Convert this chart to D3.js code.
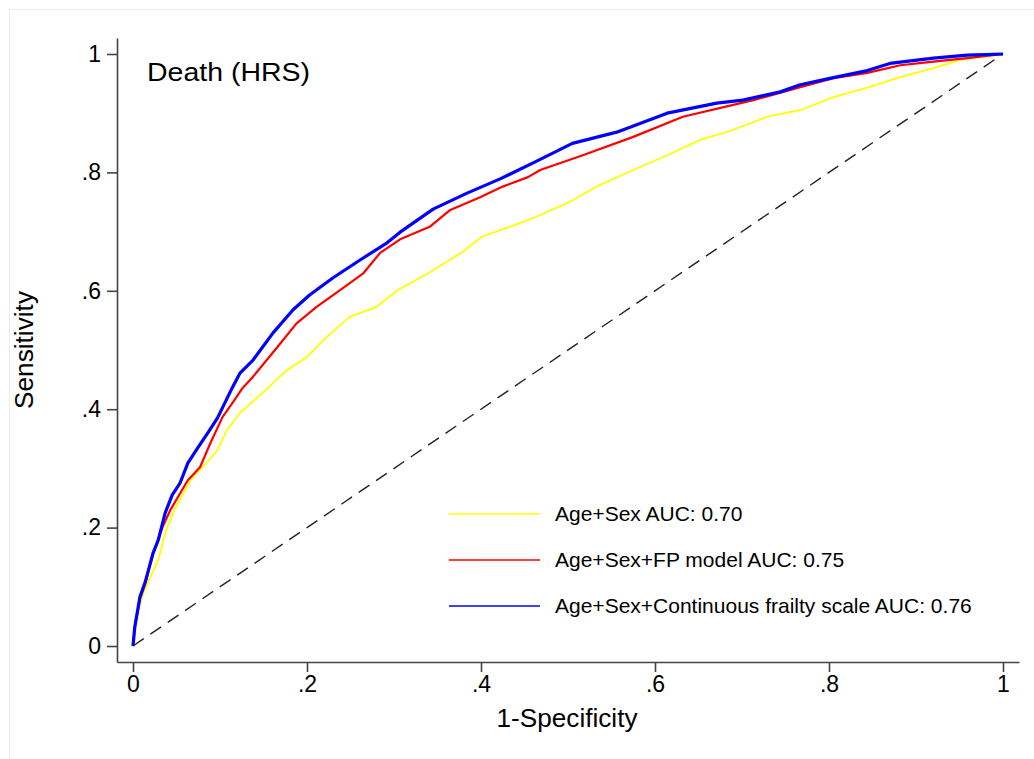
<!DOCTYPE html>
<html>
<head>
<meta charset="utf-8">
<script src="https://cdn.jsdelivr.net/npm/d3@7"></script>
<style>
  html, body { margin: 0; padding: 0; background: #fff; }
  svg { display: block; font-family: "Liberation Sans", Arial, sans-serif; }
</style>
</head>
<body>
<svg id="chart" width="1034" height="759"></svg>
<script>
// ---- data ----
const xTicks = [0, 0.2, 0.4, 0.6, 0.8, 1];
const yTicks = [0, 0.2, 0.4, 0.6, 0.8, 1];
const tickLabels = ["0", ".2", ".4", ".6", ".8", "1"];

const seriesNames = [
  "Age+Sex AUC: 0.70",
  "Age+Sex+FP model AUC: 0.75",
  "Age+Sex+Continuous frailty scale AUC: 0.76"
];
const seriesColors = ["#ffff00", "#ff0000", "#0000ff"];

const fprAgeSex = [0,0.004,0.012,0.020,0.029,0.037,0.046,0.058,0.066,0.080,0.097,0.108,0.123,0.140,0.155,0.177,0.200,0.219,0.249,0.280,0.303,0.341,0.379,0.402,0.433,0.460,0.499,0.537,0.575,0.614,0.652,0.690,0.729,0.767,0.805,0.844,0.882,0.920,0.951,0.977,1];
const tprAgeSex = [0,0.049,0.089,0.117,0.145,0.191,0.225,0.258,0.280,0.302,0.331,0.365,0.394,0.416,0.436,0.466,0.488,0.517,0.556,0.573,0.600,0.631,0.666,0.692,0.708,0.723,0.748,0.779,0.804,0.829,0.855,0.872,0.894,0.905,0.927,0.943,0.961,0.976,0.990,0.995,1];

const fprFP = [0,0.002,0.008,0.014,0.023,0.034,0.043,0.063,0.077,0.089,0.103,0.115,0.126,0.138,0.166,0.188,0.211,0.238,0.265,0.284,0.307,0.341,0.364,0.399,0.425,0.454,0.468,0.517,0.575,0.632,0.690,0.713,0.767,0.805,0.844,0.882,0.920,0.959,1];
const tprFP = [0,0.030,0.080,0.105,0.155,0.201,0.230,0.280,0.302,0.343,0.387,0.412,0.436,0.455,0.505,0.545,0.573,0.601,0.630,0.664,0.687,0.708,0.736,0.758,0.776,0.792,0.804,0.829,0.860,0.894,0.914,0.922,0.944,0.959,0.968,0.981,0.987,0.993,1];

const fprCont = [0,0.002,0.008,0.014,0.023,0.029,0.037,0.045,0.054,0.063,0.074,0.086,0.097,0.106,0.114,0.123,0.138,0.161,0.184,0.203,0.230,0.261,0.292,0.307,0.345,0.384,0.422,0.460,0.505,0.556,0.614,0.671,0.701,0.744,0.767,0.805,0.844,0.870,0.920,0.959,1];
const tprCont = [0,0.032,0.083,0.108,0.157,0.179,0.225,0.255,0.275,0.309,0.334,0.360,0.385,0.412,0.436,0.461,0.483,0.529,0.568,0.593,0.622,0.652,0.681,0.699,0.738,0.765,0.789,0.816,0.849,0.868,0.900,0.917,0.922,0.936,0.948,0.960,0.972,0.984,0.993,0.998,1];

const referenceLine = [[0, 0], [1, 1]];

// ---- drawing ----
const svg = d3.select("#chart");
const font = '"Liberation Sans", Arial, sans-serif';

// faint frame (left and top edges visible)
svg.append("line").attr("x1", 9.5).attr("x2", 9.5).attr("y1", 9).attr("y2", 759)
  .attr("stroke", "#ececec").attr("stroke-width", 1);
svg.append("line").attr("x1", 9).attr("x2", 1034).attr("y1", 9.5).attr("y2", 9.5)
  .attr("stroke", "#ececec").attr("stroke-width", 1);

const x = d3.scaleLinear().domain([-0.0184, 1.0184]).range([117, 1019]);
const y = d3.scaleLinear().domain([-0.027, 1.027]).range([662, 38]);

const fmt = d => tickLabels[xTicks.indexOf(d)];

const xAxis = svg.append("g").attr("transform", "translate(0,662)")
  .call(d3.axisBottom(x).tickValues(xTicks).tickFormat(fmt).tickSize(10).tickSizeOuter(0).tickPadding(4));
const yAxis = svg.append("g").attr("transform", "translate(117,0)")
  .call(d3.axisLeft(y).tickValues(yTicks).tickFormat(d => tickLabels[yTicks.indexOf(d)]).tickSize(10).tickSizeOuter(0).tickPadding(6));

[xAxis, yAxis].forEach(g => {
  g.select(".domain").attr("stroke", "#444").attr("stroke-width", 1.6);
  g.selectAll(".tick line").attr("stroke", "#444").attr("stroke-width", 1.6);
  g.selectAll(".tick text").attr("fill", "#000").style("font-size", "23px").style("font-family", font);
});

// axis titles
svg.append("text").attr("x", 567).attr("y", 727).attr("text-anchor", "middle")
  .style("font-size", "26px").style("font-family", font)
  .attr("textLength", 141).attr("lengthAdjust", "spacingAndGlyphs")
  .text("1-Specificity");
svg.append("text").attr("transform", "translate(33,350) rotate(-90)").attr("text-anchor", "middle")
  .style("font-size", "26px").style("font-family", font)
  .attr("textLength", 118).attr("lengthAdjust", "spacingAndGlyphs")
  .text("Sensitivity");

// panel title
svg.append("text").attr("x", 147).attr("y", 81)
  .style("font-size", "26px").style("font-family", font)
  .attr("textLength", 163).attr("lengthAdjust", "spacingAndGlyphs")
  .text("Death (HRS)");

// reference diagonal
const line = d3.line().x(d => x(d[0])).y(d => y(d[1]));
svg.append("path").datum(referenceLine).attr("d", line)
  .attr("fill", "none").attr("stroke", "#222").attr("stroke-width", 1.4)
  .attr("stroke-dasharray", "13,8");

// ROC curves
const series = [
  { fpr: fprAgeSex, tpr: tprAgeSex, width: 1.8 },
  { fpr: fprFP, tpr: tprFP, width: 2.2 },
  { fpr: fprCont, tpr: tprCont, width: 3.2 }
];
series.forEach((s, i) => {
  const pts = s.fpr.map((f, j) => [f, s.tpr[j]]);
  svg.append("path").datum(pts).attr("d", line)
    .attr("fill", "none").attr("stroke", seriesColors[i])
    .attr("stroke-width", s.width).attr("stroke-linejoin", "round");
});

// legend
const legendY = [514, 560, 606];
seriesNames.forEach((name, i) => {
  svg.append("line").attr("x1", 449).attr("x2", 540).attr("y1", legendY[i]).attr("y2", legendY[i])
    .attr("stroke", seriesColors[i]).attr("stroke-width", 1.6);
  svg.append("text").attr("x", 555).attr("y", legendY[i]).attr("dy", "0.35em")
    .style("font-size", "21px").style("font-family", font).text(name);
});
</script>
</body>
</html>
